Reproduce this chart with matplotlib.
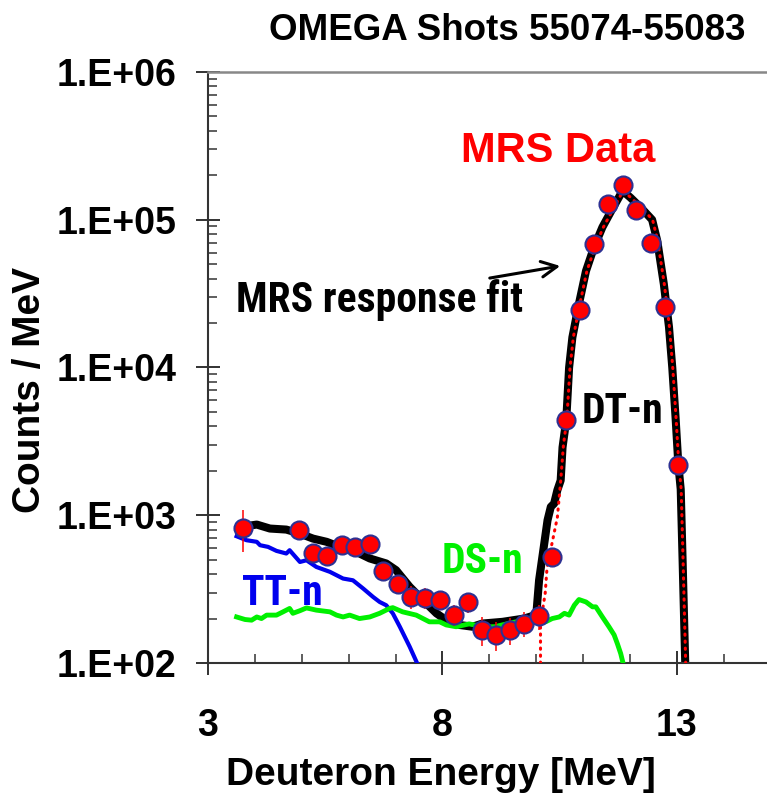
import matplotlib
matplotlib.use("Agg")
import matplotlib.pyplot as plt
from matplotlib.ticker import FixedLocator, LogLocator, NullFormatter

# MRS data points (deuteron energy [MeV], counts/MeV, error)
data_x = [3.75, 4.94, 5.24, 5.54, 5.85, 6.14, 6.45, 6.74, 7.05, 7.33, 7.63, 7.94, 8.24,
          8.54, 8.84, 9.14, 9.45, 9.74, 10.05, 10.33, 10.64, 10.94, 11.23, 11.53, 11.84,
          12.13, 12.44, 12.74, 13.03]
data_y = [821, 800, 556, 528, 627, 611, 644, 421, 341, 281, 276, 267, 213,
          257, 168, 155, 167, 185, 208, 518, 4440, 24500, 68400, 128000, 171000,
          116000, 70000, 25700, 2200]
data_err = [260, 50, 45, 40, 50, 45, 50, 45, 40, 50, 45, 40, 35,
            40, 38, 35, 35, 35, 40, 60, 300, 1200, 2500, 4000, 5000,
            4000, 2500, 1200, 200]

# total MRS response fit (black)
fit_x = [3.68, 4.04, 4.32, 4.67, 4.96, 5.24, 5.53, 5.81, 6.16, 6.45, 6.80, 7.01, 7.30,
         7.58, 7.87, 8.08, 8.36, 8.64, 8.85, 9.28, 9.74, 10.00, 10.06, 10.13, 10.24,
         10.31, 10.38, 10.45, 10.52, 10.56, 10.64, 10.70, 10.77, 10.91, 11.06, 11.23,
         11.41, 11.62, 11.84, 12.01, 12.26, 12.47, 12.58, 12.72, 12.83, 12.90, 12.97,
         13.03, 13.08, 13.12, 13.18]
fit_y = [832, 865, 813, 800, 751, 695, 661, 611, 565, 510, 472, 425, 328,
         267, 217, 195, 181, 176, 185, 190, 200, 212, 364, 522, 925,
         1140, 1200, 1480, 1720, 2880, 4440, 10000, 16000, 27000, 45000, 65000,
         89000, 118000, 157000, 141000, 118000, 100000, 72000, 36700, 18800, 10000, 4600,
         2200, 1500, 500, 90]

# DT-n component (red dotted)
dt_x = [10.09, 10.09, 10.19, 10.23, 10.45, 10.52, 10.58, 10.65, 10.72, 10.79, 10.93,
        11.08, 11.25, 11.43, 11.64, 11.85, 12.02, 12.27, 12.48, 12.59, 12.73, 12.84,
        12.91, 12.98, 13.04, 13.09, 13.13, 13.19]
dt_y = [80, 186, 296, 444, 970, 1700, 3000, 4400, 10000, 16000, 27000,
        45000, 65000, 89000, 118000, 157000, 141000, 118000, 100000, 72000, 36700, 18800,
        10000, 4600, 2200, 1500, 500, 90]

# TT-n component (blue)
tt_x = [3.61, 3.82, 4.04, 4.11, 4.28, 4.46, 4.67, 4.74, 4.96, 5.10, 5.31, 5.60, 5.88,
        6.09, 6.31, 6.52, 6.66, 6.80, 6.94, 7.09, 7.30, 7.47]
tt_y = [721, 678, 661, 627, 611, 574, 551, 580, 483, 496, 447, 414, 373,
        363, 319, 280, 259, 246, 217, 176, 129, 98]

# DS-n component (green)
ds_x = [3.61, 3.79, 3.93, 4.04, 4.14, 4.25, 4.46, 4.60, 4.74, 4.81, 4.96, 5.10, 5.31,
        5.60, 5.74, 5.88, 6.02, 6.23, 6.45, 6.66, 6.87, 6.94, 7.15, 7.44, 7.72, 7.94,
        8.08, 8.29, 8.57, 8.86, 9.11, 9.43, 9.74, 10.20, 10.34, 10.49, 10.60, 10.70,
        10.81, 10.91, 11.06, 11.20, 11.27, 11.41, 11.55, 11.66, 11.73, 11.80, 11.86]
ds_y = [205, 197, 195, 205, 200, 211, 211, 222, 234, 217, 226, 236, 228,
        222, 211, 205, 211, 200, 205, 217, 234, 237, 222, 211, 190, 190,
        181, 176, 184, 176, 176, 186, 195, 190, 200, 205, 217, 211,
        246, 269, 259, 240, 240, 205, 176, 155, 135, 116, 97]

xticks = [3, 8, 13]
yticks = [1e2, 1e3, 1e4, 1e5, 1e6]
ytick_labels = ["1.E+02", "1.E+03", "1.E+04", "1.E+05", "1.E+06"]

plt.rcParams['font.family'] = ['Liberation Sans', 'DejaVu Sans']
narrow = ['Roboto Condensed', 'Barlow Semi Condensed', 'DejaVu Sans']

fig = plt.figure(figsize=(7.67, 7.97), dpi=100)
ax = fig.add_axes([0.2712, 0.1681, 0.7288, 0.7416])

ax.plot(fit_x, fit_y, color='black', lw=5.8, solid_capstyle='butt', zorder=2)
ax.plot(tt_x, tt_y, color='#0000ee', lw=3.0, zorder=3)
ax.plot(ds_x, ds_y, color='#00f000', lw=3.5, zorder=3)
ax.plot(dt_x, dt_y, color='red', lw=2.2, ls=(0, (0.4, 1.9)), dash_capstyle='round', zorder=4)
ax.errorbar(data_x, data_y, yerr=data_err, fmt='none', ecolor='red', elinewidth=1.1, zorder=5)
ax.plot(data_x, data_y, 'o', ms=13, mfc='red', mec='#2e3192', mew=1.5, zorder=6, ls='none')

ax.set_yscale('log')
ax.set_xlim(3, 14.92)
ax.set_ylim(1e2, 1e6)

ax.xaxis.set_major_locator(FixedLocator(xticks))
ax.xaxis.set_minor_locator(FixedLocator(range(3, 15)))
ax.set_xticklabels([str(t) for t in xticks])
ax.yaxis.set_major_locator(FixedLocator(yticks))
ax.yaxis.set_minor_locator(LogLocator(base=10, subs=range(2, 10)))
ax.yaxis.set_minor_formatter(NullFormatter())
ax.set_yticklabels(ytick_labels)

ax.tick_params(which='major', direction='inout', length=17, width=1.3, color='#222222',
               labelsize=27, pad=14)
ax.tick_params(axis='x', which='major', pad=24)
ax.tick_params(which='minor', direction='in', length=6.5, width=1.1, color='#333333')
for lab in ax.get_xticklabels() + ax.get_yticklabels():
    lab.set_fontweight('bold')

ax.spines['right'].set_visible(False)
ax.spines['top'].set_color('#888888')
ax.spines['top'].set_linewidth(1.8)
for s in ['left', 'bottom']:
    ax.spines[s].set_color('#333333')
    ax.spines[s].set_linewidth(1.5)

# annotations
ax.text(10.46, 2.93e5, "MRS Data", color='red', fontsize=30, fontweight='bold',
        ha='center', va='center')
ax.text(3.60, 2.36e4, "MRS response fit", color='black', fontsize=30, fontweight='bold',
        ha='left', va='baseline', family=narrow)
ax.annotate("", xy=(10.57, 4.9e4), xytext=(8.95, 4.0e4),
            arrowprops=dict(arrowstyle='->', lw=2.2, color='black', mutation_scale=28))
ax.text(11.83, 4190, "DT-n", color='black', fontsize=30, fontweight='bold',
        ha='center', va='baseline', family=narrow)
ax.text(4.58, 247, "TT-n", color='#0000ee', fontsize=30, fontweight='bold',
        ha='center', va='baseline', family=narrow)
ax.text(8.85, 405, "DS-n", color='#00f000', fontsize=30, fontweight='bold',
        ha='center', va='baseline', family=narrow)

fig.text(0.6617, 0.962, "OMEGA Shots 55074-55083", fontsize=26.5, fontweight='bold',
         ha='center', va='center')
fig.text(0.575, 0.028, "Deuteron Energy [MeV]", fontsize=28, fontweight='bold',
         ha='center', va='center')
fig.text(0.039, 0.511, "Counts / MeV", fontsize=28, fontweight='bold',
         ha='center', va='center', rotation=90)

fig.savefig("out.png", dpi=100)
